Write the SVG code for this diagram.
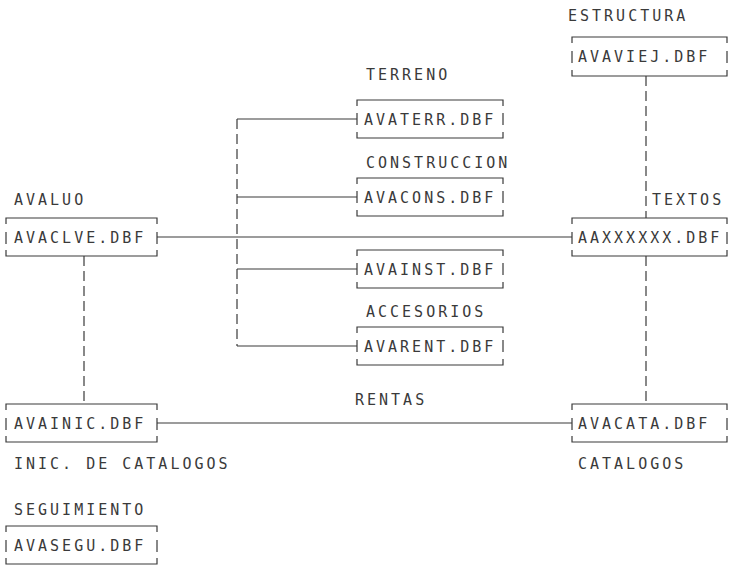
<svg xmlns="http://www.w3.org/2000/svg" width="730" height="566" viewBox="0 0 730 566">
<style>
  text { font-family: "DejaVu Sans Mono", "Liberation Mono", monospace; font-size: 15px; letter-spacing: 3px; fill: #3a3a3a; }
  .bx { fill: none; stroke: #3a3a3a; stroke-width: 1.2; }
  .h { fill: none; stroke: #3a3a3a; stroke-width: 1.1; }
  .v { fill: none; stroke: #3a3a3a; stroke-width: 1.2; stroke-dasharray: 10 5; }
</style>
<rect width="730" height="566" fill="#ffffff"/>

<g id="connectors">
  <!-- AVAVIEJ -> AAXXXXXX -->
  <line class="v" x1="646" y1="76" x2="646" y2="218"/>
  <!-- AAXXXXXX -> AVACATA -->
  <line class="v" x1="646" y1="256" x2="646" y2="404"/>
  <!-- AVACLVE -> AVAINIC -->
  <line class="v" x1="84" y1="256" x2="84" y2="404"/>
  <!-- AVACLVE -> AAXXXXXX -->
  <line class="h" x1="157" y1="237" x2="572" y2="237"/>
  <!-- AVAINIC -> AVACATA -->
  <line class="h" x1="157" y1="423" x2="572" y2="423"/>
  <!-- middle bracket -->
  <line class="v" x1="237" y1="119" x2="237" y2="346"/>
  <line class="h" x1="237" y1="119" x2="357" y2="119"/>
  <line class="h" x1="237" y1="197" x2="357" y2="197"/>
  <line class="h" x1="237" y1="269" x2="357" y2="269"/>
  <line class="h" x1="237" y1="346" x2="357" y2="346"/>
</g>

<g id="n-estructura">
  <text x="568" y="21">ESTRUCTURA</text>
  <path class="bx" d="M572 43 V37 H727 V43 M572 51 V63 M727 51 V63 M572 70 V76 H727 V70"/>
  <text x="578" y="62">AVAVIEJ.DBF</text>
</g>

<g id="n-textos">
  <text x="652" y="205">TEXTOS</text>
  <path class="bx" d="M572 224 V218 H727 V224 M572 232 V244 M727 232 V244 M572 250 V256 H727 V250"/>
  <text x="578" y="243">AAXXXXXX.DBF</text>
</g>

<g id="n-catalogos">
  <path class="bx" d="M572 410 V404 H727 V410 M572 418 V430 M727 418 V430 M572 436 V442 H727 V436"/>
  <text x="578" y="429">AVACATA.DBF</text>
  <text x="578" y="469">CATALOGOS</text>
</g>

<g id="n-avaluo">
  <text x="14" y="205">AVALUO</text>
  <path class="bx" d="M6 224 V218 H157 V224 M6 232 V244 M157 232 V244 M6 250 V256 H157 V250"/>
  <text x="14" y="243">AVACLVE.DBF</text>
</g>

<g id="n-inic">
  <path class="bx" d="M6 410 V404 H157 V410 M6 418 V430 M157 418 V430 M6 436 V442 H157 V436"/>
  <text x="14" y="429">AVAINIC.DBF</text>
  <text x="14" y="469">INIC. DE CATALOGOS</text>
</g>

<g id="n-seguimiento">
  <text x="14" y="515">SEGUIMIENTO</text>
  <path class="bx" d="M6 532 V526 H157 V532 M6 540 V552 M157 540 V552 M6 558 V564 H157 V558"/>
  <text x="14" y="551">AVASEGU.DBF</text>
</g>

<g id="n-terreno">
  <text x="366" y="80">TERRENO</text>
  <path class="bx" d="M357 106 V100 H503 V106 M357 113 V125 M503 113 V125 M357 132 V138 H503 V132"/>
  <text x="364" y="125">AVATERR.DBF</text>
</g>

<g id="n-construccion">
  <text x="366" y="168">CONSTRUCCION</text>
  <path class="bx" d="M357 184 V178 H503 V184 M357 191 V203 M503 191 V203 M357 210 V216 H503 V210"/>
  <text x="364" y="203">AVACONS.DBF</text>
</g>

<g id="n-accesorios">
  <path class="bx" d="M357 256 V250 H503 V256 M357 263 V275 M503 263 V275 M357 282 V288 H503 V282"/>
  <text x="364" y="275">AVAINST.DBF</text>
  <text x="366" y="317">ACCESORIOS</text>
</g>

<g id="n-rentas">
  <path class="bx" d="M357 333 V327 H503 V333 M357 340 V352 M503 340 V352 M357 359 V365 H503 V359"/>
  <text x="364" y="352">AVARENT.DBF</text>
  <text x="355" y="405">RENTAS</text>
</g>
</svg>
